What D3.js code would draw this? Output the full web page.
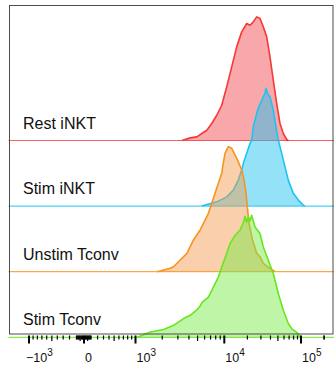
<!DOCTYPE html>
<html>
<head>
    <style>
        body { margin: 0; background: #fff; }
        svg { display: block; font-family: "Liberation Sans", Arial, sans-serif; }
        .frame { fill: none; stroke: #4d4d4d; stroke-width: 1px; }
        .rowlabel { font-size: 16px; fill: #111; }
        .ticklabel { font-size: 12.5px; fill: #111; }
    </style>
</head>
<body>
    <div id="chart"></div>

    <script src="https://d3js.org/d3.v7.min.js"></script>
    <script>
        // samples, top to bottom
        const names = ["Rest iNKT", "Stim iNKT", "Unstim Tconv", "Stim Tconv"];
        const strokes = ["#f53838", "#1cc4f2", "#f7941f", "#68e620"];
        const fills = ["#f04a4e", "#1dc3f0", "#f59d52", "#7aeb48"];

        // histogram outlines: intensity and % of mode
        const redX = [3334, 4130, 4909, 5585, 6353, 7227, 8222, 9353, 10747, 12486, 14507, 16860, 19590, 21630,
            23880, 26450, 29210, 32250, 35720, 39430, 43540, 48230, 53240, 58780, 65110, 68300];
        const redY = [0, 2.1, 2.9, 5.6, 8.2, 13.6, 20.2, 28.2, 42.9, 58.9, 74.9, 86.9, 93.6, 92.2,
            94.9, 98.9, 97.6, 90.9, 82.9, 66.9, 48.2, 29.6, 13.6, 5.6, 0.8, 0];

        const blueX = [5585, 6081, 8222, 10747, 13100, 15220, 16860, 17690, 19590, 21630, 22760, 23880, 26450, 27740,
            32250, 33930, 34970, 37480, 39430, 43540, 47210, 50600, 56030, 61850, 68300, 79380, 92210, 107000, 112700];
        const blueY = [0, 0.8, 3.4, 7.4, 12.8, 20.8, 28.8, 34.2, 42.2, 50, 52.8, 63.4, 74.2, 78.4,
            87.4, 90.2, 94.2, 88.8, 87.4, 76.8, 63.4, 52.8, 42.2, 31.4, 20.8, 10.2, 4.8, 0.8, 0];

        const orangeX = [1750, 2075, 2465, 2685, 3190, 3793, 4497, 5345, 5823, 6622, 7227, 7870, 8570, 9353, 9594,
            10210, 11280, 12490, 13790, 15220, 16860, 18060, 19180, 19950, 20990, 23320, 26450, 29210, 32250, 39430, 45800];
        const orangeY = [0, 1.4, 2.7, 4, 9.4, 14.7, 25.4, 33.4, 38.7, 46.7, 54.7, 62.7, 70.7, 78.7, 84,
            94.7, 100, 98.7, 93.4, 88, 81.4, 73.4, 62.7, 52, 38.7, 25.4, 14.7, 12, 6.7, 2.7, 0];

        const greenX = [1045, 1472, 2075, 2685, 3475, 4130, 4909, 5345, 5623, 6622, 7535, 8570, 9353, 10747, 11870,
            13790, 16020, 17800, 18620, 19600, 20550, 21600, 22760, 25140, 29210, 32250, 37480, 43540, 50600, 58780,
            68300, 75620, 79380, 92210, 96320];
        const greenY = [0, 4.2, 6.2, 9.6, 15, 17.6, 22, 25, 28, 32.2, 40.2, 48.2, 56.2, 67, 75,
            81.6, 85.6, 92, 96.8, 92, 96.5, 93, 97.6, 88.2, 83, 72.2, 61.6, 51, 35, 21.6,
            11, 7, 6, 3, 0];

        const seriesX = [redX, blueX, orangeX, greenX];
        const seriesY = [redY, blueY, orangeY, greenY];

        // axis ticks
        const majorTicks = [-1000, 0, 1000, 10000, 100000];
        const tickBase = ["\u221210", "0", "10", "10", "10"];
        const tickExp = ["3", "", "3", "4", "5"];

        const width = 335, height = 371;
        const frame = { left: 9.5, top: 5.5, right: 333, bottom: 334 };
        const firstBaseline = 140.5, rowStep = 65.6, peakHeight = 125;

        // biexponential-like axis: symlog near zero, log above 10^3
        const xLow = d3.scaleSymlog().constant(1000)
            .domain([-1000, 0, 1000]).range([29, 84, 135.5]);
        const xHigh = d3.scaleLog()
            .domain([1000, 10000, 100000]).range([135.5, 224.3, 301]);
        const x = v => v < 1000 ? xLow(v) : xHigh(v);

        const y = d3.scaleLinear().domain([0, 100]).range([0, peakHeight]);

        const svg = d3.select("#chart")
            .append("svg")
            .attr("width", width)
            .attr("height", height);

        // histograms, upper rows first so lower ones sit on top
        names.forEach((name, i) => {
            const base = firstBaseline + i * rowStep;
            const pts = seriesX[i].map((v, j) => [v, seriesY[i][j]]);
            const g = svg.append("g");

            g.append("path")
                .datum(pts)
                .attr("fill", fills[i])
                .attr("fill-opacity", 0.48)
                .attr("d", d3.area()
                    .x(d => x(d[0]))
                    .y0(base)
                    .y1(d => base - y(d[1])));

            g.append("line")
                .attr("x1", frame.left - 1).attr("x2", frame.right + 1)
                .attr("y1", base).attr("y2", base)
                .attr("stroke", strokes[i])
                .attr("stroke-opacity", 0.8)
                .attr("stroke-width", 1.2);

            g.append("path")
                .datum(pts)
                .attr("fill", "none")
                .attr("stroke", strokes[i])
                .attr("stroke-width", 1.6)
                .attr("stroke-linejoin", "round")
                .attr("d", d3.line()
                    .x(d => x(d[0]))
                    .y(d => base - y(d[1])));

            svg.append("text")
                .attr("class", "rowlabel")
                .attr("x", 23)
                .attr("y", base - 12)
                .text(name);
        });

        svg.append("rect")
            .attr("class", "frame")
            .attr("x", frame.left).attr("y", frame.top)
            .attr("width", frame.right - frame.left)
            .attr("height", frame.bottom - frame.top);

        // tick marks
        const minor = [];
        for (let m = 1; m <= 9; m++) {
            minor.push(m * 10, -m * 10, m * 100, -m * 100);
        }
        for (let d = 1000; d <= 100000; d *= 10) {
            for (let m = 2; m <= 9; m++) {
                if (m * d < 262144) minor.push(m * d);
            }
        }
        minor.push(200000);

        const ticks = svg.append("g").attr("stroke", "#000");
        const tickTop = frame.bottom + 1.5;

        ticks.selectAll(".minor")
            .data(minor)
            .enter()
            .append("line")
            .attr("x1", d => x(d)).attr("x2", d => x(d))
            .attr("y1", tickTop)
            .attr("y2", d => tickTop + (String(Math.abs(d))[0] === "5" ? 5.5 : 4))
            .attr("stroke-width", 1.2);

        ticks.selectAll(".major")
            .data(majorTicks)
            .enter()
            .append("line")
            .attr("x1", d => x(d)).attr("x2", d => x(d))
            .attr("y1", tickTop).attr("y2", tickTop + 8)
            .attr("stroke-width", 2);

        const labels = svg.selectAll(".ticklabel")
            .data(majorTicks)
            .enter()
            .append("text")
            .attr("class", "ticklabel")
            .attr("x", d => x(d) + (d < 0 ? -3 : 1))
            .attr("y", 362);

        labels.append("tspan").text((d, i) => tickBase[i]);
        labels.append("tspan")
            .attr("dy", -6)
            .attr("font-size", "10px")
            .text((d, i) => tickExp[i]);
    </script>
</body>
</html>
